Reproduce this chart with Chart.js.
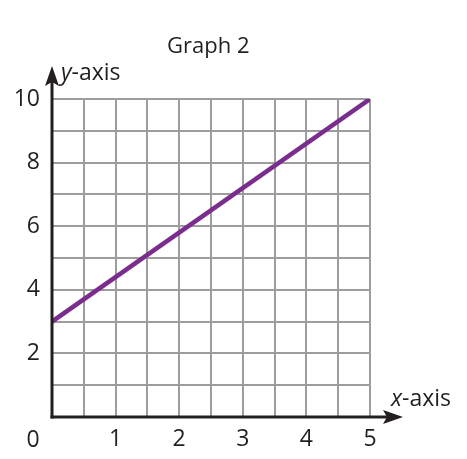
<!DOCTYPE html>
<html><head><meta charset="utf-8">
<script src="https://cdn.jsdelivr.net/npm/chart.js@4/dist/chart.umd.min.js"></script>
<style>html,body{margin:0;padding:0;background:#fff}#wrap{width:467px;height:459px}</style>
</head><body><div id="wrap"><canvas id="c" width="467" height="459"></canvas></div>
<script>
const xValues = [0, 5];
const yValues = [3, 10];
const xTickLabels = [1, 2, 3, 4, 5];
const yTickLabels = [2, 4, 6, 8, 10];
const titleText = 'Graph 2';
const FONT = '"Open Sans", "Noto Sans", sans-serif';

function labelWithItalic(ctx, first, rest, x, y, size) {
  ctx.font = 'italic ' + size + 'px ' + FONT;
  ctx.fillText(first, x, y);
  const w = ctx.measureText(first).width;
  ctx.font = size + 'px ' + FONT;
  ctx.fillText(rest, x + w, y);
}

const deco = {
  id: 'deco',
  afterDraw(chart) {
    const ctx = chart.ctx, xs = chart.scales.x, ys = chart.scales.y;
    const x0 = xs.getPixelForValue(0), y0 = ys.getPixelForValue(0);
    ctx.save();
    ctx.strokeStyle = '#231f20'; ctx.fillStyle = '#231f20'; ctx.lineWidth = 3;
    // y axis
    ctx.beginPath(); ctx.moveTo(x0, y0 + 1.5); ctx.lineTo(x0, 78); ctx.stroke();
    ctx.beginPath(); ctx.moveTo(x0, 66); ctx.lineTo(x0 - 7, 86); ctx.lineTo(x0, 82); ctx.lineTo(x0 + 7, 86); ctx.closePath(); ctx.fill();
    // x axis
    ctx.beginPath(); ctx.moveTo(x0 - 1.5, y0); ctx.lineTo(392, y0); ctx.stroke();
    ctx.beginPath(); ctx.moveTo(403, y0); ctx.lineTo(383, y0 - 7); ctx.lineTo(387, y0); ctx.lineTo(383, y0 + 7); ctx.closePath(); ctx.fill();
    // texts
    ctx.fillStyle = '#231f20';
    ctx.textBaseline = 'alphabetic';
    ctx.textAlign = 'left';
    ctx.font = '22px ' + FONT;
    ctx.fillText(titleText, 167, 53);
    labelWithItalic(ctx, 'y', '-axis', 61, 80, 23);
    labelWithItalic(ctx, 'x', '-axis', 391, 406, 23);
    ctx.font = '23px ' + FONT;
    ctx.textAlign = 'center';
    ctx.fillText('0', x0 - 19, 447);
    ctx.restore();
  }
};

new Chart(document.getElementById('c'), {
  type: 'scatter',
  data: { datasets: [{
    data: xValues.map((x, i) => ({ x, y: yValues[i] })),
    showLine: true, borderColor: '#7b2d8e', borderWidth: 4.5, pointRadius: 0, borderCapStyle: 'butt'
  }]},
  options: {
    responsive: false, animation: false, devicePixelRatio: 1,
    layout: { padding: { top: 99, right: 97, left: 0, bottom: 0 } },
    plugins: { legend: { display: false }, tooltip: { enabled: false }, title: { display: false } },
    scales: {
      x: {
        type: 'linear', min: 0, max: 5,
        afterFit(s) { s.height = 42; },
        grid: { color: '#9d9d9d', lineWidth: 2, drawTicks: false },
        border: { display: false },
        ticks: { stepSize: 0.5, padding: 9, color: '#231f20', font: { size: 23, family: FONT },
          maxRotation: 0, autoSkip: false,
          callback: v => xTickLabels.includes(v) ? String(v) : '' }
      },
      y: {
        min: 0, max: 10,
        afterFit(s) { s.width = 52; },
        grid: { color: '#9d9d9d', lineWidth: 2, drawTicks: false },
        border: { display: false },
        ticks: { stepSize: 1, padding: 12, color: '#231f20', font: { size: 23, family: FONT },
          autoSkip: false,
          callback: v => yTickLabels.includes(v) ? String(v) : '' }
      }
    }
  },
  plugins: [deco]
});
</script></body></html>
